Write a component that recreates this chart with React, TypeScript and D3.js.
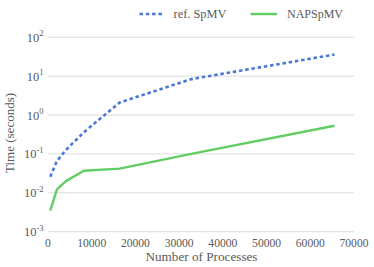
import React, { useEffect } from 'react';
import * as d3 from 'd3';

// process counts
const procs = [512, 2048, 4096, 8192, 16384, 32768, 65536];
const refSpmv = [0.026, 0.066, 0.126, 0.36, 2.1, 8.4, 36];
const napSpmv = [0.0035, 0.0123, 0.020, 0.037, 0.042, 0.1, 0.53];
const xTicks = [0, 10000, 20000, 30000, 40000, 50000, 60000, 70000];
const yExps = [-3, -2, -1, 0, 1, 2];

const W = 374;
const H = 267;
const FONT = '"Liberation Serif", "DejaVu Serif", serif';
const TXT = '#5a5a5a';

function App() {
  useEffect(() => {
    document.body.style.margin = '0';
  }, []);

  const x = d3.scaleLinear().domain([0, 70000]).range([48, 354]);
  const y = d3.scaleLog().domain([1e-3, 1e2]).range([231.7, 37.3]);

  const line = d3.line<number>()
    .x((d, i) => x(procs[i]))
    .y(d => y(d));

  return (
    <svg width={W} height={H} style={{ display: 'block' }} fontFamily={FONT}>
      {yExps.map(e => (
        <g key={e}>
          <line x1={x(0)} x2={354} y1={y(Math.pow(10, e))} y2={y(Math.pow(10, e))}
            stroke="#dcdcdc" strokeWidth={1} />
          <text x={43.5} y={y(Math.pow(10, e)) + 4.5} textAnchor="end" fill={TXT} fontSize={12.5}>
            10<tspan dy={-5.5} fontSize={8.5}>{e}</tspan>
          </text>
        </g>
      ))}
      {xTicks.map(t => (
        <text key={t} x={x(t)} y={246.5} textAnchor="middle" fill={TXT} fontSize={11.6}>{t}</text>
      ))}
      <text x={201.5} y={261} textAnchor="middle" fill={TXT} fontSize={12.5}
        textLength={112} lengthAdjust="spacingAndGlyphs">Number of Processes</text>
      <text transform={`translate(14,133) rotate(-90)`} textAnchor="middle" fill={TXT} fontSize={12.5}
        textLength={80} lengthAdjust="spacingAndGlyphs">Time (seconds)</text>

      <path d={line(refSpmv) || ''} fill="none" stroke="#4a78d6" strokeWidth={2.6}
        strokeDasharray="3.5,2.8" />
      <path d={line(napSpmv) || ''} fill="none" stroke="#62cd62" strokeWidth={2.4}
        strokeLinejoin="round" />

      {/* legend */}
      <line x1={139.5} x2={163.5} y1={14} y2={14} stroke="#4a78d6" strokeWidth={2.6} strokeDasharray="3.5,2.8" />
      <text x={173.5} y={18} fill={TXT} fontSize={12} textLength={53} lengthAdjust="spacingAndGlyphs">ref. SpMV</text>
      <line x1={250.5} x2={277} y1={14} y2={14} stroke="#62cd62" strokeWidth={2.4} />
      <text x={287} y={18} fill={TXT} fontSize={12} textLength={56} lengthAdjust="spacingAndGlyphs">NAPSpMV</text>
    </svg>
  );
}

export default App;
